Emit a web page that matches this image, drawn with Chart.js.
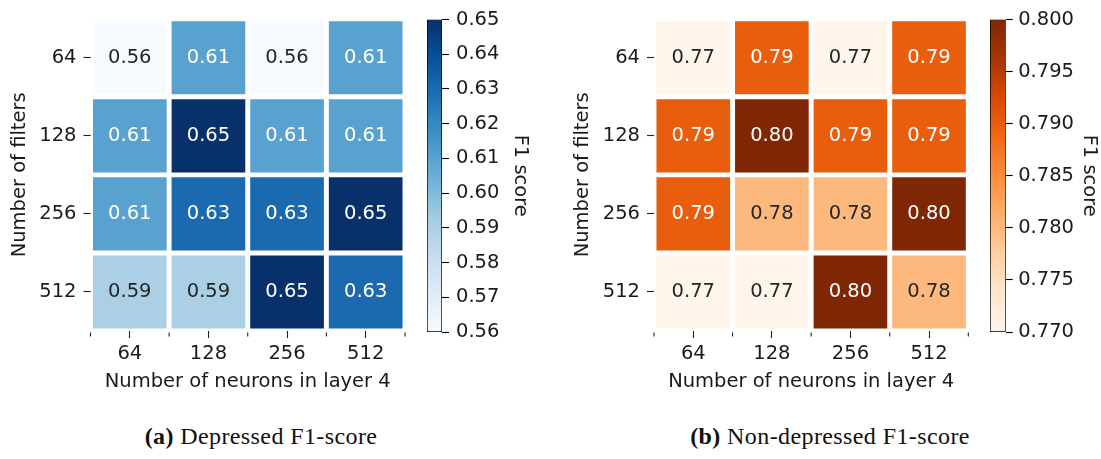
<!DOCTYPE html>
<html><head><meta charset="utf-8">
<script src="https://cdn.jsdelivr.net/npm/chart.js@4.4.1/dist/chart.umd.min.js"></script>
<style>
html,body{margin:0;padding:0;background:#fff;}
#wrap{position:relative;width:1101px;height:459px;overflow:hidden;background:#fff;}
canvas{position:absolute;}
.cap{position:absolute;top:424px;font-family:'Liberation Serif',serif;font-size:24px;line-height:24px;letter-spacing:0.4px;white-space:nowrap;transform:translateX(-50%);color:#111;}
.cap b{font-weight:bold;}
</style></head>
<body><div id="wrap">
<canvas id="hmA" width="420" height="400" style="left:0;top:0"></canvas>
<canvas id="cbA" width="130" height="400" style="left:427px;top:0"></canvas>
<canvas id="hmB" width="420" height="400" style="left:560px;top:0"></canvas>
<canvas id="cbB" width="111" height="400" style="left:990px;top:0"></canvas>
<div class="cap" style="left:261px"><b>(a)</b> Depressed F1-score</div>
<div class="cap" style="left:830px"><b>(b)</b> Non-depressed F1-score</div>
</div>
<script>
// ---- data ----
const neurons = ['64', '128', '256', '512'];
const filters = ['64', '128', '256', '512'];
const depressed = [
  [0.56, 0.61, 0.56, 0.61],
  [0.61, 0.65, 0.61, 0.61],
  [0.61, 0.63, 0.63, 0.65],
  [0.59, 0.59, 0.65, 0.63]
];
const nonDepressed = [
  [0.77, 0.79, 0.77, 0.79],
  [0.79, 0.80, 0.79, 0.79],
  [0.79, 0.78, 0.78, 0.80],
  [0.77, 0.77, 0.80, 0.78]
];
const cbTicksA = [0.56, 0.57, 0.58, 0.59, 0.60, 0.61, 0.62, 0.63, 0.64, 0.65];
const cbTicksB = [0.770, 0.775, 0.780, 0.785, 0.790, 0.795, 0.800];

// ---- colormaps (matplotlib Blues / Oranges anchors) ----
const BLUES = ['#f7fbff','#deebf7','#c6dbef','#9ecae1','#6baed6','#4292c6','#2171b5','#08519c','#08306b'];
const ORANGES = ['#fff5eb','#fee6ce','#fdd0a2','#fdae6b','#fd8d3c','#f16913','#d94801','#a63603','#7f2704'];
function hexToRgb(h){return [parseInt(h.slice(1,3),16),parseInt(h.slice(3,5),16),parseInt(h.slice(5,7),16)];}
function makeCmap(anchors){
  const rgb = anchors.map(hexToRgb); const n = rgb.length;
  return t => {
    t = Math.max(0, Math.min(1, t));
    const p = t*(n-1); const i = Math.min(Math.floor(p), n-2); const f = p-i;
    return rgb[i].map((c,k) => c + (rgb[i+1][k]-c)*f);
  };
}
function rgbStr(c){return 'rgb(' + c.map(v=>Math.round(v)).join(',') + ')';}
function lum(c){
  const l = c.map(v => { v = v/255; return v <= 0.03928 ? v/12.92 : Math.pow((v+0.055)/1.055, 2.4); });
  return 0.2126*l[0] + 0.7152*l[1] + 0.0722*l[2];
}

const TXT = '#1a1a1a';
const FS = 19.5;
const FONT = {family: "'DejaVu Sans', sans-serif", size: FS};

const annot = {
  id: 'annot',
  afterDatasetsDraw(chart){
    const ctx = chart.ctx;
    ctx.save();
    ctx.font = FS + "px 'DejaVu Sans'";
    ctx.textAlign = 'center'; ctx.textBaseline = 'middle';
    chart.data.datasets.forEach((ds, i) => {
      const meta = chart.getDatasetMeta(i);
      meta.data.forEach((bar, j) => {
        const cy = (bar.y + bar.base) / 2;
        ctx.fillStyle = lum(ds.rgb[j]) > 0.408 ? '#262626' : '#ffffff';
        ctx.fillText(ds.values[j].toFixed(2), bar.x, cy);
      });
    });
    // small ticks at cell boundaries on the x axis
    const xs = chart.scales.x;
    const half = (xs.getPixelForValue(1) - xs.getPixelForValue(0)) / 2;
    const yb = chart.chartArea.bottom;
    ctx.strokeStyle = '#222'; ctx.lineWidth = 1.1;
    ctx.beginPath();
    for (let j = 0; j <= neurons.length; j++) {
      const x = (j < neurons.length ? xs.getPixelForValue(j) - half : xs.getPixelForValue(j-1) + half);
      ctx.moveTo(x, yb + 1.5); ctx.lineTo(x, yb + 5.5);
    }
    ctx.stroke();
    ctx.restore();
  }
};

function heatmap(id, values, vmin, vmax, cmap, yAxisW, rightPad, yTitlePad){
  const datasets = filters.map((f, i) => {
    const rgb = values[i].map(v => cmap((v - vmin) / (vmax - vmin)));
    return {
      label: f,
      data: neurons.map(() => [i, i + 1]),
      values: values[i],
      rgb: rgb,
      backgroundColor: rgb.map(rgbStr),
      borderColor: '#ffffff', borderWidth: 2.8, borderSkipped: false,
      barPercentage: 1, categoryPercentage: 1, grouped: false
    };
  });
  new Chart(document.getElementById(id), {
    type: 'bar',
    data: {labels: neurons, datasets},
    plugins: [annot],
    options: {
      responsive: false, animation: false, devicePixelRatio: 1,
      layout: {padding: {top: 18.5, right: rightPad, left: 0, bottom: 0}},
      plugins: {legend: {display: false}, tooltip: {enabled: false}},
      scales: {
        x: {
          type: 'category', offset: true,
          grid: {display: true, drawOnChartArea: false, drawTicks: true, tickLength: 7, tickWidth: 1.1, tickColor: '#222', offset: false},
          border: {display: false},
          ticks: {font: FONT, color: TXT, padding: 4, maxRotation: 0, autoSkip: false},
          title: {display: true, text: 'Number of neurons in layer 4', font: FONT, color: TXT, padding: {top: 0, bottom: 6.5}},
          afterFit: s => { s.height = 69; }
        },
        y: {
          type: 'linear', min: 0, max: filters.length, reverse: true,
          afterBuildTicks: s => { s.ticks = filters.map((f, i) => ({value: i + 0.5})); },
          ticks: {font: FONT, color: TXT, padding: 7, autoSkip: false, callback: (v, i) => filters[i]},
          grid: {display: true, drawOnChartArea: false, drawTicks: true, tickLength: 7, tickWidth: 1.1, tickColor: '#222'},
          border: {display: false},
          title: {display: true, text: 'Number of filters', font: FONT, color: TXT, padding: {top: yTitlePad, bottom: 0}},
          afterFit: s => { s.width = yAxisW; }
        }
      }
    }
  });
}

function colorbar(id, vmin, vmax, cmap, tickVals, decimals, axisW, titlePad, tickPad){
  new Chart(document.getElementById(id), {
    type: 'bar',
    data: {labels: [''], datasets: [{
      data: [[vmin, vmax]],
      backgroundColor: c => {
        const ca = c.chart.chartArea; if (!ca) return '#fff';
        const g = c.chart.ctx.createLinearGradient(0, ca.bottom, 0, ca.top);
        for (let k = 0; k <= 64; k++) g.addColorStop(k/64, rgbStr(cmap(k/64)));
        return g;
      },
      borderColor: '#000', borderWidth: 1, borderSkipped: false,
      barPercentage: 1, categoryPercentage: 1
    }]},
    options: {
      responsive: false, animation: false, devicePixelRatio: 1,
      layout: {padding: {top: 19.5, bottom: 68, left: 0, right: 0}},
      plugins: {legend: {display: false}, tooltip: {enabled: false}},
      scales: {
        x: {display: false},
        y: {
          position: 'right', min: vmin, max: vmax,
          afterBuildTicks: s => { s.ticks = tickVals.map(v => ({value: v})); },
          ticks: {font: FONT, color: TXT, padding: tickPad, callback: v => v.toFixed(decimals)},
          grid: {display: true, drawOnChartArea: false, drawTicks: true, tickLength: 7, tickWidth: 1.1, tickColor: '#000'},
          border: {display: false},
          title: {display: true, text: 'F1 score', font: FONT, color: TXT, padding: {top: titlePad, bottom: 0}},
          afterFit: s => { s.width = axisW; }
        }
      }
    }
  });
}

const blues = makeCmap(BLUES), oranges = makeCmap(ORANGES);
heatmap('hmA', depressed, 0.56, 0.65, blues, 90.5, 15, 8.3);
colorbar('cbA', 0.56, 0.65, blues, cbTicksA, 2, 115, 25.3, 7);
heatmap('hmB', nonDepressed, 0.77, 0.80, oranges, 94, 11.7, 11.3);
colorbar('cbB', 0.77, 0.80, oranges, cbTicksB, 3, 95.3, 0, 5.5);
</script>
</body></html>
